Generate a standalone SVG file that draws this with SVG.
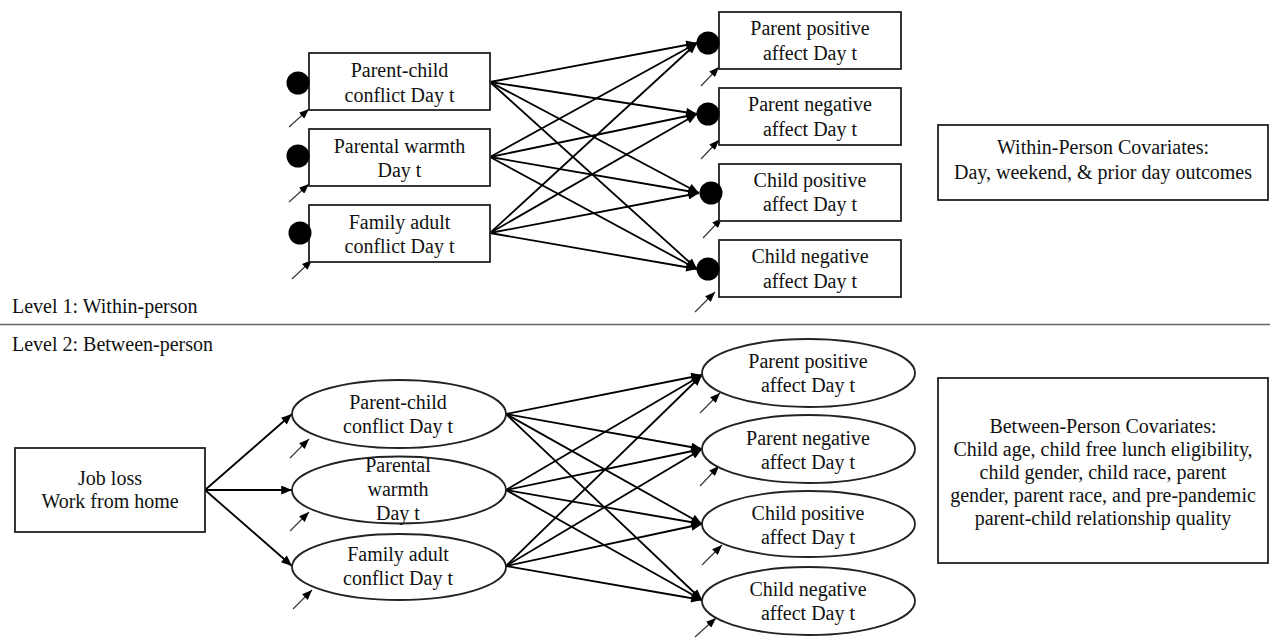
<svg xmlns="http://www.w3.org/2000/svg" width="1270" height="638" viewBox="0 0 1270 638">
<style>
text{font-family:"Liberation Serif","Times New Roman",serif;font-size:20px;fill:#111}
.c{text-anchor:middle}
.box{fill:#fff;stroke:#222;stroke-width:1.8}
.dot{fill:#000}
.conn{stroke:#000;stroke-width:1.8;fill:none;marker-end:url(#ah)}
.err{stroke:#333;stroke-width:1.1;fill:none;marker-end:url(#ahs)}
</style>
<defs>
<marker id="ah" markerUnits="userSpaceOnUse" viewBox="0 0 12 10" refX="12" refY="5" markerWidth="12" markerHeight="9" orient="auto">
<path d="M0,0 L12,5 L0,10 z" fill="#000"/>
</marker>
<marker id="ahs" markerUnits="userSpaceOnUse" viewBox="0 0 10 8" refX="10" refY="4" markerWidth="10" markerHeight="8" orient="auto">
<path d="M0,0 L10,4 L0,8 z" fill="#000"/>
</marker>
</defs>
<rect width="1270" height="638" fill="#fff"/>

<g id="connectors">
<!-- Level 1 -->
<line class="conn" x1="490" y1="82" x2="697" y2="43"/>
<line class="conn" x1="490" y1="82" x2="697" y2="114"/>
<line class="conn" x1="490" y1="82" x2="699" y2="193"/>
<line class="conn" x1="490" y1="82" x2="697" y2="269"/>
<line class="conn" x1="490" y1="157" x2="697" y2="43"/>
<line class="conn" x1="490" y1="157" x2="697" y2="114"/>
<line class="conn" x1="490" y1="157" x2="699" y2="193"/>
<line class="conn" x1="490" y1="157" x2="697" y2="269"/>
<line class="conn" x1="490" y1="233" x2="697" y2="43"/>
<line class="conn" x1="490" y1="233" x2="697" y2="114"/>
<line class="conn" x1="490" y1="233" x2="699" y2="193"/>
<line class="conn" x1="490" y1="233" x2="697" y2="269"/>
<!-- Level 1 residual arrows -->
<line class="err" x1="289" y1="127" x2="309" y2="109"/>
<line class="err" x1="289" y1="202" x2="309" y2="184"/>
<line class="err" x1="292" y1="279" x2="312" y2="260"/>
<line class="err" x1="701" y1="86" x2="719" y2="67"/>
<line class="err" x1="701" y1="159" x2="719" y2="140"/>
<line class="err" x1="703" y1="238" x2="722" y2="218"/>
<line class="err" x1="695" y1="312" x2="715" y2="292"/>
<!-- Level 2 -->
<line class="conn" x1="205" y1="490" x2="292" y2="414"/>
<line class="conn" x1="205" y1="490" x2="292" y2="490"/>
<line class="conn" x1="205" y1="490" x2="292" y2="566"/>
<line class="conn" x1="506" y1="414" x2="702" y2="375"/>
<line class="conn" x1="506" y1="414" x2="702" y2="449"/>
<line class="conn" x1="506" y1="414" x2="702" y2="524"/>
<line class="conn" x1="506" y1="414" x2="702" y2="600"/>
<line class="conn" x1="506" y1="490" x2="702" y2="375"/>
<line class="conn" x1="506" y1="490" x2="702" y2="449"/>
<line class="conn" x1="506" y1="490" x2="702" y2="524"/>
<line class="conn" x1="506" y1="490" x2="702" y2="600"/>
<line class="conn" x1="506" y1="566" x2="702" y2="375"/>
<line class="conn" x1="506" y1="566" x2="702" y2="449"/>
<line class="conn" x1="506" y1="566" x2="702" y2="524"/>
<line class="conn" x1="506" y1="566" x2="702" y2="600"/>
<!-- Level 2 residual arrows -->
<line class="err" x1="290" y1="458" x2="309" y2="439"/>
<line class="err" x1="290" y1="531" x2="309" y2="512"/>
<line class="err" x1="293" y1="609" x2="312" y2="590"/>
<line class="err" x1="700" y1="413" x2="720" y2="393"/>
<line class="err" x1="700" y1="486" x2="719" y2="466"/>
<line class="err" x1="702" y1="565" x2="722" y2="545"/>
<line class="err" x1="695" y1="637" x2="716" y2="618"/>
</g>

<!-- Level 1 predictors -->
<g id="l1-pc-conflict">
<rect class="box" x="309" y="53" width="181" height="57"/>
<circle class="dot" cx="298" cy="83" r="11.5"/>
<text class="c" x="399.5" y="77">Parent-child</text>
<text class="c" x="399.5" y="102">conflict Day t</text>
</g>
<g id="l1-warmth">
<rect class="box" x="309" y="129" width="181" height="57"/>
<circle class="dot" cx="298" cy="156" r="11.5"/>
<text class="c" x="399.5" y="153">Parental warmth</text>
<text class="c" x="399.5" y="177">Day t</text>
</g>
<g id="l1-fa-conflict">
<rect class="box" x="309" y="205" width="181" height="57"/>
<circle class="dot" cx="300" cy="233" r="11.5"/>
<text class="c" x="399.5" y="229">Family adult</text>
<text class="c" x="399.5" y="253">conflict Day t</text>
</g>

<!-- Level 1 outcomes -->
<g id="l1-pp">
<rect class="box" x="719" y="12" width="182" height="57"/>
<circle class="dot" cx="708" cy="43" r="11.5"/>
<text class="c" x="810" y="35">Parent positive</text>
<text class="c" x="810" y="60">affect Day t</text>
</g>
<g id="l1-pn">
<rect class="box" x="719" y="88" width="182" height="57"/>
<circle class="dot" cx="708" cy="114" r="11.5"/>
<text class="c" x="810" y="111">Parent negative</text>
<text class="c" x="810" y="136">affect Day t</text>
</g>
<g id="l1-cp">
<rect class="box" x="719" y="164" width="182" height="57"/>
<circle class="dot" cx="711" cy="193" r="11.5"/>
<text class="c" x="810" y="187">Child positive</text>
<text class="c" x="810" y="211">affect Day t</text>
</g>
<g id="l1-cn">
<rect class="box" x="719" y="240" width="182" height="57"/>
<circle class="dot" cx="708" cy="269" r="11.5"/>
<text class="c" x="810" y="263">Child negative</text>
<text class="c" x="810" y="288">affect Day t</text>
</g>

<g id="within-covariates">
<rect class="box" x="938" y="125" width="330" height="75"/>
<text class="c" x="1103" y="154">Within-Person Covariates:</text>
<text class="c" x="1103" y="179">Day, weekend, &amp; prior day outcomes</text>
</g>

<g id="levels">
<text x="12" y="313">Level  1: Within-person</text>
<line x1="0" y1="324.5" x2="1270" y2="324.5" stroke="#666" stroke-width="1.5"/>
<text x="12" y="351">Level  2: Between-person</text>
</g>

<!-- Level 2 -->
<g id="l2-jobloss">
<rect class="box" x="15" y="448" width="190" height="84"/>
<text class="c" x="110" y="485">Job loss</text>
<text class="c" x="110" y="508">Work from home</text>
</g>
<g id="l2-pc-conflict">
<ellipse class="box" cx="399" cy="414" rx="107" ry="34"/>
<text class="c" x="398" y="409">Parent-child</text>
<text class="c" x="398" y="433">conflict Day t</text>
</g>
<g id="l2-warmth">
<ellipse class="box" cx="399" cy="490" rx="107" ry="33.5"/>
<text class="c" x="398" y="472">Parental</text>
<text class="c" x="398" y="496">warmth</text>
<text class="c" x="398" y="520">Day t</text>
</g>
<g id="l2-fa-conflict">
<ellipse class="box" cx="399" cy="567" rx="107" ry="33"/>
<text class="c" x="398" y="561">Family adult</text>
<text class="c" x="398" y="585">conflict Day t</text>
</g>

<g id="l2-pp">
<ellipse class="box" cx="808.5" cy="373" rx="106.5" ry="34"/>
<text class="c" x="808" y="368">Parent positive</text>
<text class="c" x="808" y="392">affect Day t</text>
</g>
<g id="l2-pn">
<ellipse class="box" cx="808.5" cy="449" rx="106.5" ry="34"/>
<text class="c" x="808" y="445">Parent negative</text>
<text class="c" x="808" y="469">affect Day t</text>
</g>
<g id="l2-cp">
<ellipse class="box" cx="808.5" cy="524" rx="106.5" ry="33"/>
<text class="c" x="808" y="520">Child positive</text>
<text class="c" x="808" y="544">affect Day t</text>
</g>
<g id="l2-cn">
<ellipse class="box" cx="808.5" cy="601" rx="106.5" ry="34"/>
<text class="c" x="808" y="596">Child negative</text>
<text class="c" x="808" y="620">affect Day t</text>
</g>

<g id="between-covariates">
<rect class="box" x="938" y="378" width="330" height="185"/>
<text class="c" x="1103" y="433">Between-Person Covariates:</text>
<text class="c" x="1103" y="456">Child age, child free lunch eligibility,</text>
<text class="c" x="1103" y="479">child gender, child race, parent</text>
<text class="c" x="1103" y="502">gender, parent race, and pre-pandemic</text>
<text class="c" x="1103" y="525">parent-child relationship quality</text>
</g>
</svg>
